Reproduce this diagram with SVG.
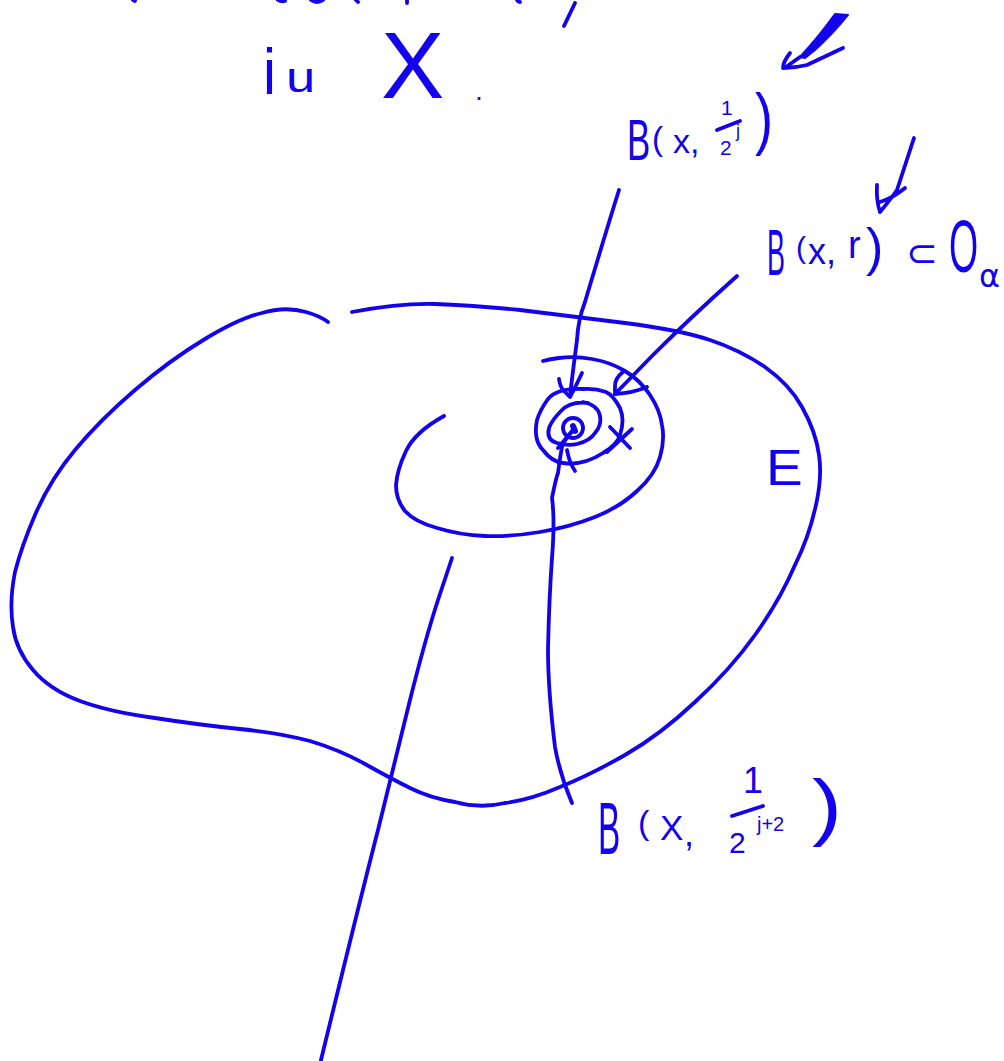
<svg xmlns="http://www.w3.org/2000/svg" width="1004" height="1061" viewBox="0 0 1004 1061">
<style>
.s{fill:none;stroke:#1200ee;stroke-width:3.8;stroke-linecap:round;stroke-linejoin:round}
text{fill:#1200ee;font-family:"Liberation Sans",Arial,sans-serif}
.d{font-family:"DejaVu Sans",sans-serif}
</style>
<rect width="1004" height="1061" fill="#ffffff"/>
<g id="fragments" class="s">
<path d="M133,0 L135,1M278,0 Q281,2 285,1M311,0 Q317,4 323,0M356,0 L358,2M407,0 L407,3M517,0 Q518,2 520,2M575,3 L564,26"/>
</g>
<g id="set-E">
<path class="s" d="M352,312 Q400,303 435,304 Q470,305 520,310 Q570,316 625,323 Q680,330 710,340 Q740,350 765,367 Q790,385 802,407 Q816,432 819,455 Q822,475 817,500 Q810,535 795,565 Q780,600 755,635 Q730,670 695,702 Q660,735 625,755 Q590,775 560,787 Q530,800 505,803 Q480,809 455,802 Q430,798 410,788 Q390,778 365,764 Q340,750 310,741 Q280,733 240,729 Q200,725 155,718 Q110,712 80,701 Q50,690 33,670 Q16,650 13,627 Q9,602 15,572 Q22,545 35,515 Q50,480 75,450 Q100,420 135,390 Q170,360 205,339 Q240,318 262,313 Q285,306 306,312 Q320,316 328,322"/>
</g>
<g id="outer-spiral">
<path class="s" d="M444,416 Q415,432 406,451 Q397,470 396,485 Q396,500 405,511 Q415,522 437,528 Q460,535 485,536 Q510,537 540,532 Q570,527 595,517 Q620,507 637,491 Q655,475 660,457 Q665,440 662,425 Q660,410 650,395 Q640,380 625,371 Q610,362 592,359 Q575,356 559,358 Q550,359 543,361"/>
</g>
<g id="nested-balls" class="s">
<path d="M583,389 Q557,388 548,399 Q540,410 537,420 Q533,440 543,450 Q552,462 563,463 Q583,466 603,453 Q617,445 620,435 Q625,420 620,408 Q613,395 606,392 Q595,388 583,389"/>
<path d="M588,403 Q570,401 561,411 Q552,420 549,428 Q546,440 557,443 Q568,446 577,444 Q590,441 595,433 Q602,425 600,416 Q598,405 583,402"/>
<circle cx="573" cy="428" r="10"/>
<path d="M573,426 L575,431" stroke-width="6"/>
</g>
<g id="point-x" class="s">
<path d="M610,427 L630,448M632,429 L607,452"/>
</g>
<g id="connectors" class="s">
<path d="M619,190 Q605,235 597,262 Q590,285 585,302 Q578,320 577,340 Q573,370 570,396"/>
<path d="M559,379 Q560,386 563,390 L570,397 Q576,386 582,373"/>
<path d="M737,276 Q690,318 652,356 L615,394"/>
<path d="M623,372 Q615,378 615,386 L615,394 Q633,393 647,387"/>
<path d="M572,803 Q560,775 555,747 Q548,690 548,650 Q549,600 552,558 Q555,520 552,498 Q556,478 558,473 Q561,450 563,443 L573,430"/>
<path d="M558,448 L573,430M567,450 Q569,462 575,471"/>
<path d="M321,1060 Q360,900 378,830 Q395,760 410,700 Q425,640 438,600 L452,558"/>
</g>
<g id="check-marks" class="s">
<path d="M835,14 L848,15 Q832,35 815,50 L805,58 L800,57 Q820,35 835,14Z" fill="#1200ee" stroke-width="2"/>
<path d="M800,57 L786,67"/>
<path d="M790,53 Q783,62 783,68 Q795,68 807,65 L843,48"/>
<path d="M914,138 L897,190 Q890,200 880,212 Q876,200 877,185M880,202 Q893,198 905,188"/>
</g>
<g id="label-in-X">
<text transform="translate(263,94) scale(.9,1)" font-size="65">i</text>
<text transform="translate(286,92) scale(1.25,1)" font-size="42">u</text>
<text x="381" y="98" font-size="95">X</text>
<text x="475" y="100" font-size="28">.</text>
</g>
<g id="label-E">
<text transform="translate(766,485) scale(1.1,1)" font-size="50">E</text>
</g>
<g id="label-ball-1">
<text transform="translate(627,160) scale(.6,1)" font-size="58">B</text>
<text x="652" y="150" font-size="33">(</text>
<text x="673" y="153" font-size="34">x,</text>
<text x="721" y="115" font-size="21">1</text>
<text x="720" y="155" font-size="21">2</text>
<text x="736" y="137" font-size="18">j</text>
<text transform="translate(755,142) scale(.8,1)" font-size="68">)</text>
<path class="s" d="M717,130 L740,121"/>
</g>
<g id="label-ball-2">
<text transform="translate(767,275) scale(.42,1)" font-size="64">B</text>
<text x="796" y="258" font-size="30">(</text>
<text x="808" y="264" font-size="36">x,</text>
<text x="848" y="258" font-size="38">r</text>
<text x="866" y="265" font-size="52">)</text>
<text class="d" x="906" y="266" font-size="38">⊂</text>
<text transform="translate(949,272) scale(.5,1)" font-size="75">O</text>
<text class="d" x="979" y="287" font-size="32">α</text>
</g>
<g id="label-ball-3">
<text transform="translate(598,854) scale(.45,1)" font-size="74">B</text>
<text x="638" y="834" font-size="34">(</text>
<text x="660" y="840" font-size="35">X</text>
<text x="684" y="846" font-size="36">,</text>
<text x="743" y="793" font-size="36">1</text>
<text x="729" y="853" font-size="30">2</text>
<text x="757" y="831" font-size="20">j+2</text>
<text transform="translate(812,832) scale(1.2,1)" font-size="75">)</text>
<path class="s" d="M732,816 L763,806"/>
</g>
</svg>
